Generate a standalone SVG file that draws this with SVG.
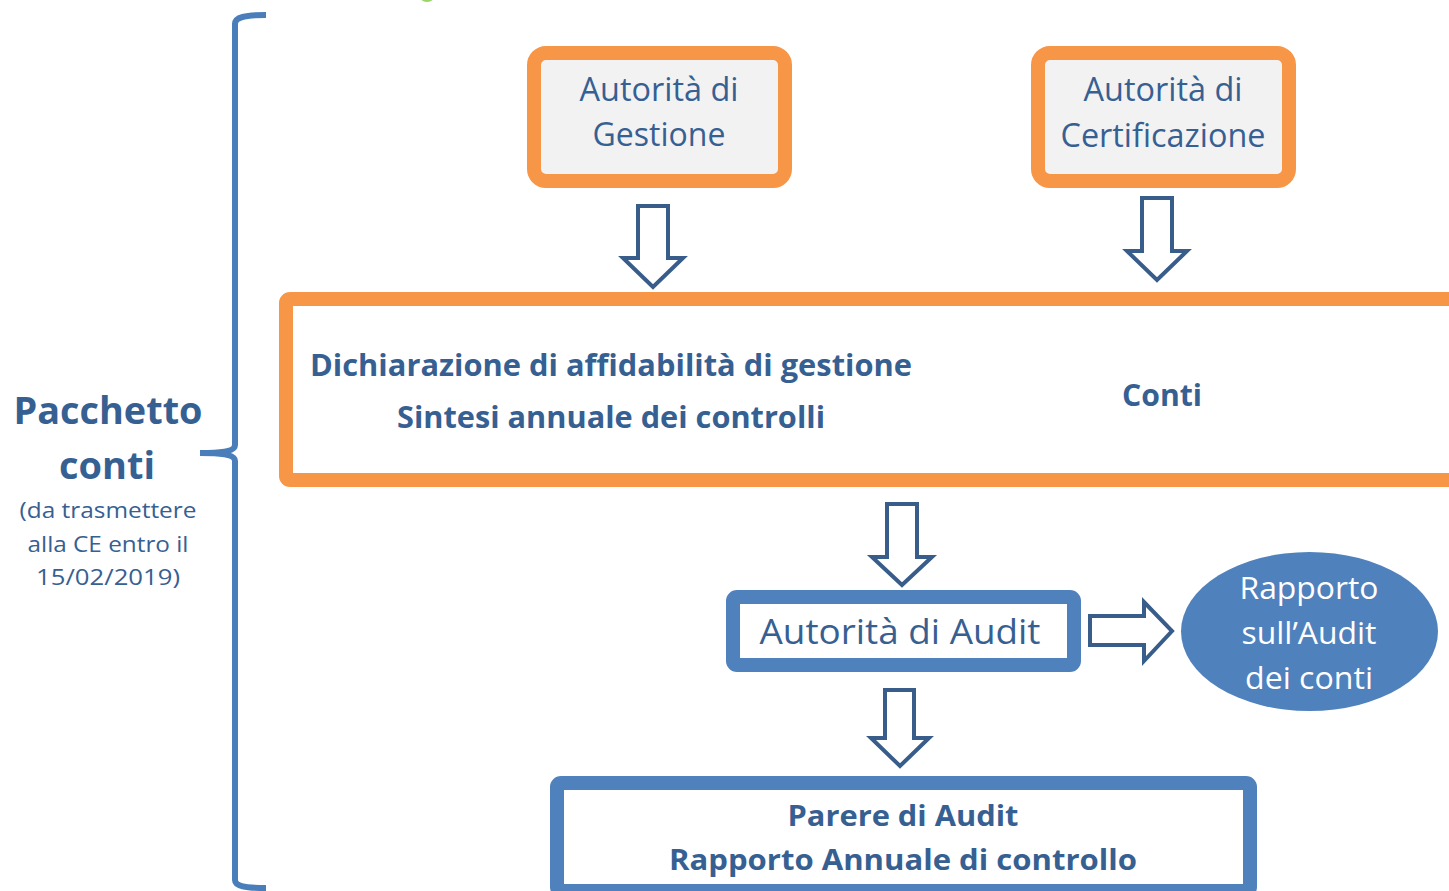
<svg xmlns="http://www.w3.org/2000/svg" width="1449" height="891" viewBox="0 0 1449 891">
<defs>
<style>
.t{font-family:"Open Sans","Liberation Sans",sans-serif;fill:#376092;text-anchor:middle}
.b{font-weight:bold}
.w{fill:#FFFFFF}
.ob{fill:#F2F2F2;stroke:#F79646;stroke-width:14}
.bb{fill:#FFFFFF;stroke:#4F81BD;stroke-width:14}
.ar{fill:#FFFFFF;stroke:#385D8A;stroke-width:4;stroke-linejoin:miter}
</style>
</defs>
<rect width="1449" height="891" fill="#FFFFFF"/>
<ellipse cx="427" cy="-7" rx="9" ry="9" fill="#9BD46B"/>
<g id="bracket">
<path d="M266,15 C245,15 235,17 235,24 L235,445 C235,450 228,453 200,453 C228,453 235,456 235,461 L235,880 C235,886 245,888 266,888" fill="none" stroke="#4A7EBB" stroke-width="6"/>
</g>
<g id="pacchetto">
<text class="t b" x="108" y="424" font-size="37" textLength="189" lengthAdjust="spacingAndGlyphs">Pacchetto</text>
<text class="t b" x="107" y="479" font-size="37" textLength="96" lengthAdjust="spacingAndGlyphs">conti</text>
<text class="t" x="108" y="518" font-size="22" textLength="177" lengthAdjust="spacingAndGlyphs">(da trasmettere</text>
<text class="t" x="108" y="552" font-size="22" textLength="161" lengthAdjust="spacingAndGlyphs">alla CE entro il</text>
<text class="t" x="108" y="585" font-size="22" textLength="144" lengthAdjust="spacingAndGlyphs">15/02/2019)</text>
</g>
<g id="adg">
<rect class="ob" x="534" y="53" width="251" height="128" rx="12"/>
<text class="t" x="659" y="101" font-size="32" textLength="159" lengthAdjust="spacingAndGlyphs">Autorità di</text>
<text class="t" x="659" y="146" font-size="32" textLength="133" lengthAdjust="spacingAndGlyphs">Gestione</text>
</g>
<g id="adc">
<rect class="ob" x="1038" y="53" width="251" height="128" rx="12"/>
<text class="t" x="1163" y="101" font-size="32" textLength="159" lengthAdjust="spacingAndGlyphs">Autorità di</text>
<text class="t" x="1163" y="147" font-size="32" textLength="205" lengthAdjust="spacingAndGlyphs">Certificazione</text>
</g>
<g id="pacchetto-box">
<rect x="286" y="299" width="1200" height="181" rx="4" fill="#FFFFFF" stroke="#F79646" stroke-width="14"/>
<text class="t b" x="611" y="376" font-size="30" textLength="602" lengthAdjust="spacingAndGlyphs">Dichiarazione di affidabilità di gestione</text>
<text class="t b" x="611" y="428" font-size="30" textLength="428" lengthAdjust="spacingAndGlyphs">Sintesi annuale dei controlli</text>
<text class="t b" x="1162" y="406" font-size="30" textLength="80" lengthAdjust="spacingAndGlyphs">Conti</text>
</g>
<g id="ada">
<rect class="bb" x="733" y="597" width="341" height="68" rx="4"/>
<text class="t" x="900" y="644" font-size="34" textLength="281" lengthAdjust="spacingAndGlyphs">Autorità di Audit</text>
</g>
<g id="rapporto-audit">
<ellipse cx="1309.5" cy="631.5" rx="128.5" ry="79.5" fill="#4F81BD"/>
<text class="t w" x="1309" y="599" font-size="31" textLength="139" lengthAdjust="spacingAndGlyphs">Rapporto</text>
<text class="t w" x="1309" y="644" font-size="31" textLength="135" lengthAdjust="spacingAndGlyphs">sull’Audit</text>
<text class="t w" x="1309" y="689" font-size="31" textLength="128" lengthAdjust="spacingAndGlyphs">dei conti</text>
</g>
<g id="parere">
<rect class="bb" x="557" y="783" width="693" height="108" rx="4"/>
<text class="t b" x="903" y="826" font-size="29" textLength="231" lengthAdjust="spacingAndGlyphs">Parere di Audit</text>
<text class="t b" x="903" y="870" font-size="29" textLength="468" lengthAdjust="spacingAndGlyphs">Rapporto Annuale di controllo</text>
</g>
<g id="connectors">
<path class="ar" d="M638,206 L668,206 L668,258 L683,258 L653,287 L623,258 L638,258 Z"/>
<path class="ar" d="M1142,198 L1172,198 L1172,251 L1187,251 L1157,280 L1127,251 L1142,251 Z"/>
<path class="ar" d="M887,504 L917,504 L917,557 L932,557 L902,585 L872,557 L887,557 Z"/>
<path class="ar" d="M885,690 L914,690 L914,738 L929,738 L900,766 L871,738 L885,738 Z"/>
<path class="ar" d="M1090,616 L1144,616 L1144,602 L1172,631 L1144,661 L1144,645 L1090,645 Z"/>
</g>
</svg>
